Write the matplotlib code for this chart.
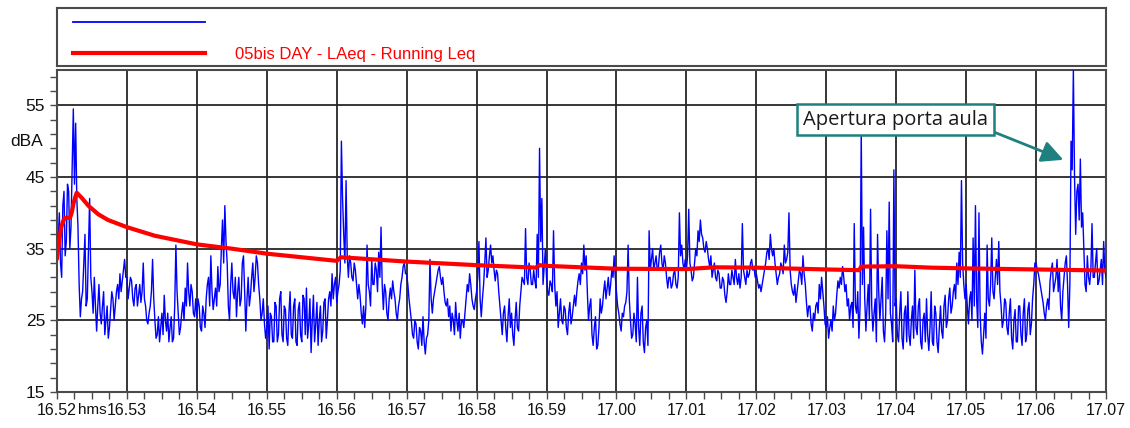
import numpy as np
import matplotlib
matplotlib.use('Agg')
import matplotlib.pyplot as plt
from matplotlib.lines import Line2D
from matplotlib.ticker import FixedLocator, MultipleLocator

# LAeq ogni secondo, un elenco per minuto (dBA)
leq_1652 = [34, 36, 40, 33, 31, 41, 43, 34, 36, 44, 43, 35, 38, 46, 54.5, 44, 52.5, 42, 38, 30,
            25.5, 28, 29, 33, 37, 27, 28, 35, 42, 31, 29, 26, 31, 27, 23.5, 27, 30, 26, 24.5, 27,
            29, 23, 25, 27, 22.5, 24, 26.5, 29, 28, 25, 27, 29, 30, 28, 31.5, 29, 30.5, 32, 33.5, 31]
leq_1653 = [31, 28, 29.5, 31, 30.5, 28, 27, 29.5, 30, 27, 28.5, 30, 27.5, 29, 33, 28, 27, 25, 24.5, 26,
            27, 29, 33.5, 28, 25, 22.5, 23, 25.5, 22, 24, 26, 23, 28.5, 25, 23.5, 26, 22, 24, 25.5, 22,
            22.5, 27, 35.5, 29, 26, 23, 24, 26, 27.5, 25, 29.5, 27, 33, 29, 27, 30, 29, 26, 25.5, 28]
leq_1654 = [25.5, 28, 27, 24, 23.5, 27, 26, 24, 28, 30, 31, 27, 34, 29, 26.5, 28, 29.5, 27, 32.5, 29,
            30, 35, 39, 33, 41, 36, 33, 27, 25, 30, 33, 29, 28, 31, 25.5, 29, 31, 27, 28, 33,
            34, 29, 23.5, 28, 31, 27, 28.5, 31, 33, 29, 31, 34, 33, 30, 28, 25, 26, 28, 24.5, 22.5]
leq_1655 = [24, 27, 21, 26, 25.5, 22, 22, 27.5, 27, 22, 23, 28, 29, 23, 22, 27, 26.5, 22.5, 21.5, 26,
            29, 23, 22.5, 27, 28, 22, 21.5, 26.5, 27.5, 23, 22, 28.5, 28, 23, 29.5, 22.5, 24.5, 28, 20.5, 25,
            28.5, 22, 24.5, 27.5, 21.5, 25, 27, 22, 23.5, 27.5, 28, 22.5, 25, 28, 29, 27, 31.5, 28, 30, 31]
leq_1656 = [27.5, 29, 30, 32, 50, 42, 37, 33, 44.5, 34, 31, 34, 33, 31, 30.5, 33, 32, 30, 28, 30,
            28.5, 26, 24.5, 27, 24, 27, 35.5, 30, 29, 27, 33.5, 30, 30, 33, 32, 29, 34.5, 31, 38, 30,
            26.5, 30, 29, 26, 25, 28, 29.5, 28, 30.5, 29, 28, 26, 25, 27, 28, 30, 31, 32.5, 33, 31.5]
leq_1657 = [31.5, 30, 28, 26.5, 25, 23, 22.5, 25, 24.5, 22, 21, 24, 23.5, 21.5, 25.5, 22, 20.3, 22.5, 23, 25,
            33.5, 28, 26, 28, 29, 30, 31, 32, 32.5, 31, 30, 31, 29, 27.5, 27, 28, 25.5, 27, 23.5, 26,
            25, 23, 27.5, 25, 23.5, 26, 22.5, 25, 25, 24, 26, 28, 30, 29, 31.5, 30, 28, 27, 26.5, 28]
leq_1658 = [29, 31, 36, 28, 25.5, 28, 30, 33, 36.5, 31, 32, 34, 35.5, 33, 34, 32, 30.5, 32, 31.5, 29,
            27, 25, 23, 26, 27, 24, 22, 25.5, 28, 24, 26, 23, 21.5, 25, 27.5, 24, 23.5, 27, 29, 31,
            30.5, 30, 37.8, 31, 30, 33, 32, 30, 30, 32, 30.5, 29.5, 37, 31, 49, 36, 42, 30, 32.5, 35]
leq_1659 = [31, 29, 28.5, 30.5, 30, 29, 37.5, 30, 27, 29, 24, 26, 28, 25, 24.5, 27, 26.5, 24, 23, 26,
            27.5, 24.5, 25.5, 27, 28.5, 27, 29, 30.5, 31.5, 30, 33, 31.5, 35.5, 32, 34, 29, 25, 27, 28, 23,
            21.5, 24, 25.5, 21, 21.5, 24, 28, 26, 27, 29, 30.5, 28, 29.5, 31, 28.5, 30, 32, 31, 34, 31]
leq_1700 = [29, 27, 26, 24.5, 23.5, 26, 25.5, 27, 27.5, 29, 35.5, 28, 25, 22.5, 23, 26, 24.5, 22, 31, 24,
            21.5, 26, 27, 22, 20.5, 24, 25, 21.5, 37.5, 32, 33.5, 35, 32, 33, 34, 32, 32.5, 34.5, 35.5, 33,
            32, 34, 33, 31, 29.5, 31, 31, 29.5, 30, 31.5, 32, 30, 29.5, 31, 40, 34, 35.5, 33, 32, 33.5]
leq_1701 = [32, 34, 40.5, 33, 32, 30.5, 31, 33, 35, 34, 37.5, 36, 39, 37, 36.5, 35, 34.5, 36, 35, 33.5,
            32.5, 34, 31, 32, 33, 31, 30.5, 32, 31.5, 29.5, 29.5, 31, 30.5, 28.5, 27.5, 29, 31.5, 30, 30, 32,
            31, 30, 33.5, 31, 30, 31.5, 29.5, 31, 38.5, 32, 31, 30, 32, 31, 31.5, 33, 33.5, 32, 32.5, 31]
leq_1702 = [31.5, 30.5, 29.5, 30, 29, 30, 31, 32, 33, 34.5, 35, 33.5, 37, 35, 34, 35, 33, 31.5, 30, 31,
            31.5, 33, 32.5, 31.5, 35.5, 33, 33.5, 34.5, 40, 32, 30, 29, 28.5, 30, 27.5, 29, 30.5, 32, 31.5, 30,
            34, 31.5, 30, 27.5, 25.5, 27, 27, 24.5, 23.5, 26, 25, 27, 27.5, 26, 30, 28, 31, 29, 27, 24.5]
leq_1703 = [24, 25.5, 22.5, 24, 25, 23.5, 27, 25, 26, 28.5, 30.5, 29.5, 31, 30, 32.5, 31, 29, 30, 27, 28,
            25, 27, 27.5, 24, 38.5, 27, 26, 29, 22.5, 27, 51.5, 30, 38, 28, 23.5, 27, 30, 25, 40.5, 27,
            23.5, 26, 28, 22, 37, 29, 25, 28, 31, 23.5, 22, 26, 37.5, 28, 41.5, 26, 24.5, 22, 46, 27]
leq_1704 = [28, 23, 22, 26, 29, 22.5, 21, 26, 27, 22, 29, 23, 21.5, 25, 27, 22.5, 32, 24, 23, 27,
            28, 22, 21, 25, 26, 22, 28, 23, 20.8, 24, 29, 22, 21.5, 27, 26, 22, 20.5, 24, 27, 23.5,
            22.5, 27, 28.5, 24, 25, 28, 29.5, 26, 27, 29, 30, 28, 33, 30, 34.5, 31, 44.5, 33, 30, 28]
leq_1705 = [30, 27, 24.5, 28, 29, 25, 36.5, 27, 41, 28, 24, 40, 26, 22, 20.3, 23, 26, 22.5, 35.5, 28,
            27, 30, 36.5, 29, 28, 31, 33.5, 30, 36, 29, 27, 24, 25, 28, 27.5, 24, 23, 26, 28, 22.5,
            21, 25, 26.5, 22, 22, 27, 27, 23, 21.5, 26, 28, 22, 23, 26.5, 27.5, 23, 24.5, 28, 30, 33]
leq_1706 = [33, 32, 31.5, 30.5, 29.5, 28.5, 27.5, 26, 25, 27, 28, 26.5, 30.5, 32, 33, 29, 30, 31, 33.5, 29,
            32, 27, 25, 29, 31, 33, 34, 30, 24, 30, 50, 46, 60, 45, 37, 43, 44, 39, 47.5, 38,
            40, 35, 30, 29, 34, 31, 30, 32, 38.5, 31, 31, 33, 35, 30, 30.5, 32, 33.5, 30, 36, 32]
leq_1707 = [31]

# Running Leq: minuti dalle 16.52 e livello (dBA)
run_t = [0.0, 0.03, 0.057, 0.09, 0.114, 0.186, 0.21, 0.234, 0.258, 0.282, 0.353,
         0.448, 0.59, 0.73, 1.0, 1.4, 2.0, 2.5, 3.0, 3.5, 4.0, 4.06, 5.0, 6.0,
         6.85, 6.9, 7.0, 7.5, 8.0, 9.0, 9.4, 10.0, 11.0, 11.47, 11.5, 12.0,
         12.5, 13.0, 14.0, 15.0]
run_v = [33.7, 36.0, 37.9, 38.9, 39.3, 39.3, 40.0, 41.2, 42.1, 42.8, 42.1,
         41.0, 39.8, 39.0, 38.0, 36.8, 35.6, 35.0, 34.3, 33.8, 33.3, 33.8, 33.2, 32.7,
         32.35, 32.7, 32.6, 32.4, 32.2, 32.15, 32.4, 32.35, 32.1, 32.0, 32.5, 32.55,
         32.35, 32.25, 32.1, 31.95]

x_labels = ['16.52', '16.53', '16.54', '16.55', '16.56', '16.57', '16.58', '16.59',
            '17.00', '17.01', '17.02', '17.03', '17.04', '17.05', '17.06', '17.07']
y_major = [15, 25, 35, 45, 55]

series_name = '05bis DAY - LAeq - Running Leq'
note = 'Apertura porta aula'

SANS = ['Liberation Sans', 'DejaVu Sans']
TEAL = '#1f8080'
GRID = '#262626'
FRAME = '#4a4a4a'
INK = '#111111'

leq = np.concatenate([leq_1652, leq_1653, leq_1654, leq_1655, leq_1656, leq_1657,
                      leq_1658, leq_1659, leq_1700, leq_1701, leq_1702, leq_1703,
                      leq_1704, leq_1705, leq_1706, leq_1707])
t_min = np.arange(len(leq)) / 60.0

W, H = 1130, 428
fig = plt.figure(figsize=(W / 100, H / 100), dpi=100)

# area del grafico
ax = fig.add_axes([57 / W, (H - 392) / H, 1049 / W, 322.5 / H])
ax.plot(t_min, leq, color='#0000ff', lw=1.0, zorder=3)
ax.plot(run_t, run_v, color='#ff0000', lw=3.0, zorder=4, solid_joinstyle='round')

ax.set_xlim(0, 15)
ax.set_ylim(15, 60)
ax.xaxis.set_major_locator(FixedLocator(range(len(x_labels))))
ax.xaxis.set_minor_locator(MultipleLocator(0.25))
ax.set_xticklabels(x_labels)
ax.yaxis.set_major_locator(FixedLocator(y_major))
ax.yaxis.set_minor_locator(FixedLocator([v for v in range(15, 61, 2) if v not in y_major]))

ax.grid(True, which='major', color=GRID, lw=1.3, zorder=1)
ax.tick_params(which='both', direction='out', length=5, width=1.0, color=FRAME)
ax.tick_params(axis='y', which='major', pad=3.5)
ax.tick_params(axis='x', which='major', pad=3)
for lab in ax.get_xticklabels():
    lab.set_family(SANS)
    lab.set_fontsize(11.5)
    lab.set_color(INK)
for lab in ax.get_yticklabels():
    lab.set_family(SANS)
    lab.set_fontsize(12.5)
    lab.set_color(INK)
for sp in ax.spines.values():
    sp.set_color(FRAME)
    sp.set_linewidth(1.5)

fig.text(27 / W, 1 - 142 / H, 'dBA', family=SANS, fontsize=12.5, ha='center', va='center', color=INK)
fig.text(92 / W, 1 - 410 / H, 'hms', family=SANS, fontsize=11, ha='center', va='center', color=INK)

# nota sul picco finale
ax.annotate(note, xy=(14.39, 47.4), xytext=(11.99, 53.0), ha='center', va='center',
            family=['Open Sans', 'DejaVu Sans'], fontsize=14.5, color='#1a1a1a', zorder=6,
            bbox=dict(boxstyle='square,pad=0.28', fc='white', ec=TEAL, lw=1.8),
            arrowprops=dict(arrowstyle='-|>,head_length=0.9,head_width=0.45', color=TEAL,
                            lw=2.0, relpos=(1, 0), shrinkA=0, shrinkB=0))

# riquadro legenda sopra il grafico
lax = fig.add_axes([57 / W, (H - 66) / H, 1049 / W, 58 / H])
lax.set_xticks([])
lax.set_yticks([])
for sp in lax.spines.values():
    sp.set_color(FRAME)
    sp.set_linewidth(1.5)
handles = [Line2D([], [], color='#0000ff', lw=1.3), Line2D([], [], color='#ff0000', lw=3.0)]
lax.legend(handles, ['', series_name], loc='upper left', bbox_to_anchor=(0.0, 1.0 + 8 / 58),
           frameon=False, prop={'family': SANS, 'size': 12}, labelcolor=['#0000ff', '#ff0000'],
           handlelength=7.9, handletextpad=1.85, labelspacing=0.94, borderpad=0.2,
           borderaxespad=0.75)

fig.savefig('out.png', dpi=100)
